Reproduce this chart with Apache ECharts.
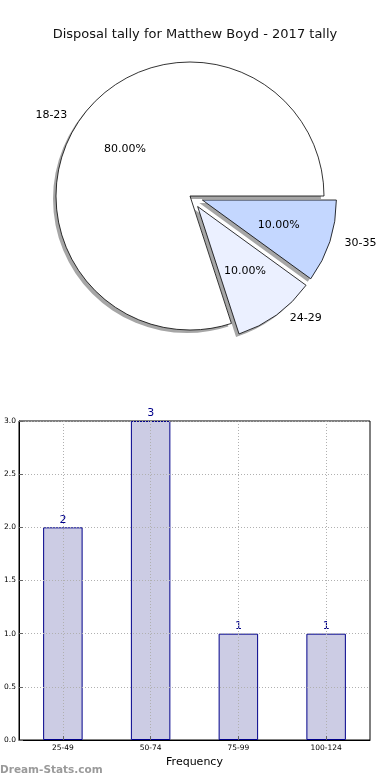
<!DOCTYPE html>
<html><head><meta charset="utf-8">
<script src="https://cdn.jsdelivr.net/npm/echarts@6/dist/echarts.min.js"></script>
<style>html,body{margin:0;padding:0;background:#fff}#c{width:390px;height:780px}</style>
</head><body><div id="c"></div>
<script>
const titleText = 'Disposal tally for Matthew Boyd - 2017 tally';
const pieCategories = ['18-23', '24-29', '30-35'];
const pieValues = [8, 1, 1];
const pieExploded = [false, true, true];
const pieColors = ['#ffffff', '#ebf0ff', '#c4d7ff'];
const barCategories = ['25-49', '50-74', '75-99', '100-124'];
const barValues = [2, 3, 1, 1];
const yTicks = [0, 0.5, 1.0, 1.5, 2.0, 2.5, 3.0];
const xAxisName = 'Frequency';
const watermark = 'Dream-Stats.com';

const FONT = 'DejaVu Sans';
const R = 134, CX = 190, CY = 196, OFFSET = 13;

function pieData(colorFn) {
  return pieCategories.map((n, i) => ({
    name: n, value: pieValues[i], selected: pieExploded[i],
    itemStyle: { color: colorFn(i) }
  }));
}

const chart = echarts.init(document.getElementById('c'), null, { renderer: 'canvas' });
chart.setOption({
  animation: false,
  backgroundColor: '#fff',
  title: {
    text: titleText, left: 'center', top: 23,
    textStyle: { fontFamily: FONT, fontSize: 13, fontWeight: 'normal', color: '#111' }
  },
  graphic: [{
    type: 'text', left: 0, top: 765,
    style: { text: watermark, fill: '#9a9a9a', font: 'bold 10.5px "DejaVu Sans"' }
  }],
  grid: { left: 19, right: 20, top: 421, bottom: 40, show: true, borderColor: '#000', borderWidth: 1, backgroundColor: 'transparent' },
  xAxis: {
    type: 'category', data: barCategories, z: 3,
    name: xAxisName, nameLocation: 'middle', nameGap: 17,
    nameTextStyle: { fontFamily: FONT, fontSize: 11, color: '#000' },
    axisLine: { lineStyle: { color: '#000' } },
    axisTick: { show: true, inside: true, alignWithLabel: true, length: 4, lineStyle: { color: '#666' } },
    axisLabel: { fontFamily: FONT, fontSize: 7.5, color: '#000', margin: 4 },
    splitLine: { show: true, alignWithLabel: true, lineStyle: { color: '#b0b0b0', type: [1, 2] } }
  },
  yAxis: {
    type: 'value', min: yTicks[0], max: yTicks[yTicks.length - 1], interval: 0.5, z: 3,
    axisLine: { show: true, lineStyle: { color: '#000' } },
    axisTick: { show: true, inside: true, length: 4, lineStyle: { color: '#666' } },
    axisLabel: { fontFamily: FONT, fontSize: 7.5, color: '#000', margin: 3, formatter: v => v.toFixed(1) },
    splitLine: { show: true, lineStyle: { color: '#b0b0b0', type: [1, 2] } }
  },
  series: [
    {
      type: 'pie', name: 'shadow', silent: true, z: 1,
      center: [CX - 3, CY + 3], radius: R, startAngle: 0, clockwise: false,
      selectedMode: 'multiple', selectedOffset: OFFSET, avoidLabelOverlap: false,
      label: { show: false }, labelLine: { show: false },
      itemStyle: { borderWidth: 0 },
      data: pieData(() => '#a6a6a6')
    },
    {
      type: 'pie', name: 'main', silent: true, z: 2,
      center: [CX, CY], radius: R, startAngle: 0, clockwise: false,
      selectedMode: 'multiple', selectedOffset: OFFSET, avoidLabelOverlap: false,
      itemStyle: { borderColor: '#000', borderWidth: 0.8 },
      label: { show: true, position: 'outside', fontFamily: FONT, fontSize: 11, color: '#000', distanceToLabelLine: 0, formatter: '{b}' },
      labelLine: { show: false, length: 4, length2: 11 },
      data: pieData(i => pieColors[i])
    },
    {
      type: 'pie', name: 'pct', silent: true, z: 3,
      center: [CX, CY], radius: [0, 1.2 * R - 6], startAngle: 0, clockwise: false,
      selectedMode: 'multiple', selectedOffset: OFFSET, avoidLabelOverlap: false,
      itemStyle: { borderWidth: 0 },
      label: { show: true, position: 'inner', fontFamily: FONT, fontSize: 11, color: '#000',
        formatter: p => p.percent.toFixed(2) + '%' },
      labelLine: { show: false },
      data: pieData(() => 'rgba(0,0,0,0)')
    },
    {
      type: 'bar', data: barValues, barWidth: '45%', z: 2,
      itemStyle: { color: '#cccce4', borderColor: '#00008b', borderWidth: 1 },
      label: { show: true, position: 'top', distance: 2, fontFamily: FONT, fontSize: 11, color: '#00008b' }
    }
  ]
});
</script></body></html>
